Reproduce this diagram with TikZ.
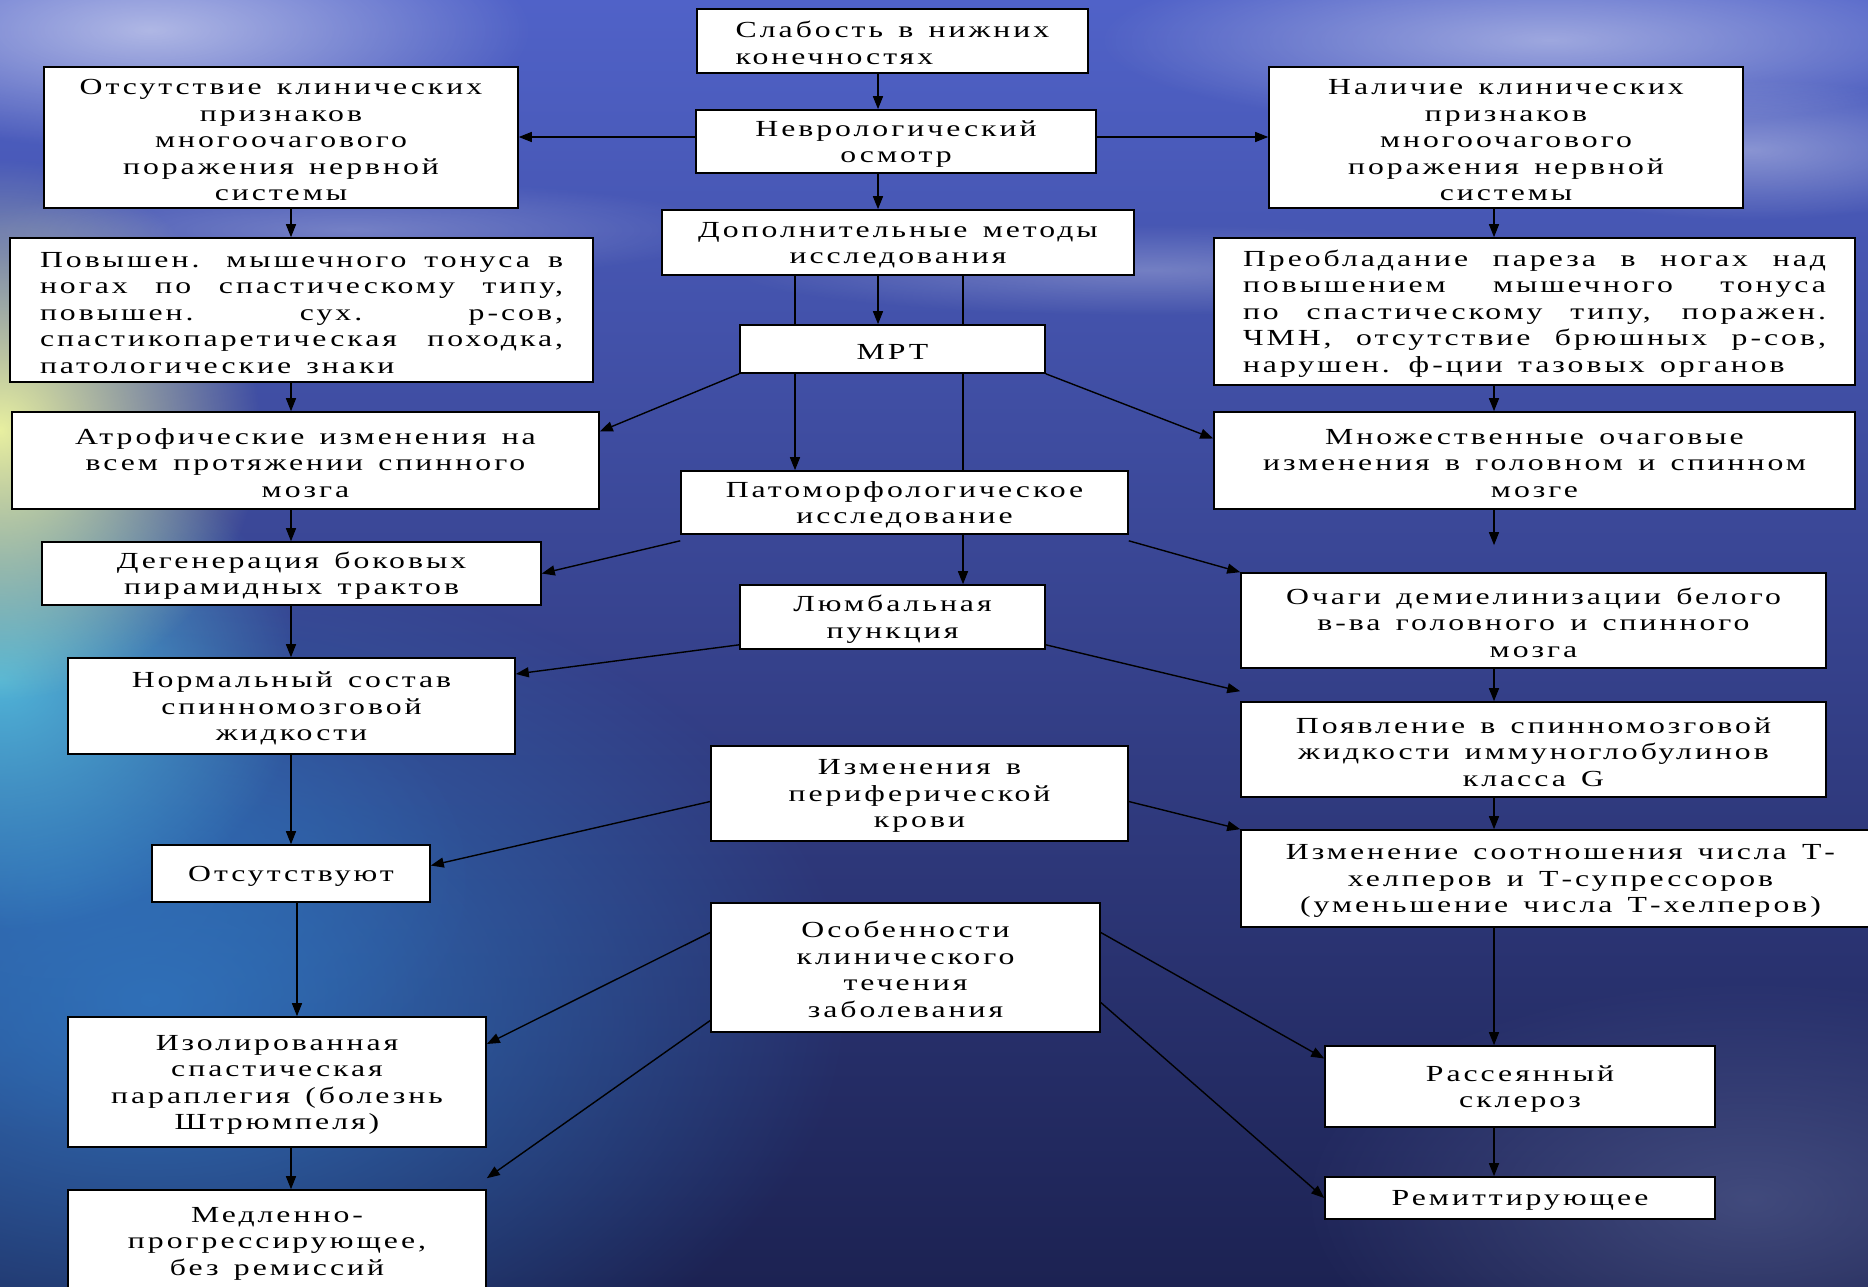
\documentclass[tikz,border=0pt]{standalone}
\usepackage{fontspec}
\usetikzlibrary{arrows.meta,fadings}
\newfontfamily\bxfont[FakeStretch=1.38,LetterSpace=13,WordSpace=1.4]{Liberation Serif}
\pgfdeclarelayer{bgl}\pgfdeclarelayer{conn}
\pgfsetlayers{bgl,conn,main}
\definecolor{skyA}{HTML}{5062C8}
\definecolor{skyB}{HTML}{2E3A9C}
\definecolor{seaC}{HTML}{1C2252}
\definecolor{glowY}{HTML}{E8F0A0}
\definecolor{glowC}{HTML}{50B4D8}
\definecolor{waterT}{HTML}{3070B8}
\definecolor{greyW}{HTML}{6A76A6}
\tikzfading[name=softout,inner color=transparent!0,outer color=transparent!100]
\tikzset{
  box/.style={draw=black,line width=1.6pt,fill=white,inner sep=0pt,align=center,
    font=\bxfont\fontsize{23}{26.5}\selectfont},
  arr/.style={line width=1.4pt,-{Triangle[length=13pt,width=10pt]}},
}
\newcommand{\Bx}[7][]{%
  \pgfmathsetmacro\bw{#5-#3}%
  \pgfmathsetmacro\bh{#6-#4}%
  \pgfmathsetmacro\bcx{(#3+#5)/2}%
  \pgfmathsetmacro\bcy{(#4+#6)/2}%
  \node[box,minimum width=\bw pt,minimum height=\bh pt,#1] (#2) at (\bcx,\bcy) {\rule{0pt}{20.5pt}#7};}
\begin{document}
\begin{tikzpicture}[x=1pt,y=-1pt]
\useasboundingbox (0,0) rectangle (1868,1287);
\begin{pgfonlayer}{bgl}
  \shade[top color=skyA,middle color=skyB,bottom color=seaC] (0,0) rectangle (1868,1287);
  \fill[white,opacity=0.55,path fading=softout] (150,30) ellipse [x radius=380,y radius=120];
  \fill[white,opacity=0.45,path fading=softout] (1550,40) ellipse [x radius=450,y radius=90];
  \fill[white,opacity=0.35,path fading=softout] (1750,150) ellipse [x radius=260,y radius=70];
  \fill[white,opacity=0.25,path fading=softout] (1150,270) ellipse [x radius=420,y radius=45];
  \fill[white,opacity=0.25,path fading=softout] (350,230) ellipse [x radius=380,y radius=50];
  \fill[greyW,opacity=0.45,path fading=softout] (1750,1200) ellipse [x radius=450,y radius=220];
  \fill[waterT,opacity=1,path fading=softout] (150,1000) ellipse [x radius=700,y radius=450];
  \fill[waterT,opacity=0.8,path fading=softout] (60,880) ellipse [x radius=420,y radius=260];
  \fill[glowC,opacity=1,path fading=softout] (0,680) ellipse [x radius=300,y radius=250];
  \fill[glowY,opacity=1,path fading=softout] (0,430) ellipse [x radius=260,y radius=270];
\end{pgfonlayer}

\Bx[align=left]{sl}{697}{9}{1088}{73}{Слабость в нижних\\конечностях}
\Bx{nev}{696}{110}{1096}{173}{Неврологический\\осмотр}
\Bx{otsK}{44}{67}{518}{208}{Отсутствие клинических\\признаков\\многоочагового\\поражения нервной\\системы}
\Bx{nal}{1269}{67}{1743}{208}{Наличие клинических\\признаков\\многоочагового\\поражения нервной\\системы}
\Bx{dop}{662}{210}{1134}{275}{Дополнительные методы\\исследования}
\Bx[text width=523pt,align=justify]{pov}{10}{238}{593}{382}{Повышен. мышечного тонуса в\linebreak ногах по спастическому типу,\linebreak повышен. сух. р-сов,\linebreak спастикопаретическая походка,\linebreak патологические знаки}
\Bx[text width=583pt,align=justify]{preo}{1214}{238}{1855}{385}{Преобладание пареза в ногах над\linebreak повышением мышечного тонуса\linebreak по спастическому типу, поражен.\linebreak ЧМН, отсутствие брюшных р-сов,\linebreak нарушен. ф-ции тазовых органов}
\Bx{mrt}{740}{325}{1045}{373}{МРТ}
\Bx{atr}{12}{412}{599}{509}{Атрофические изменения на\\всем протяжении спинного\\мозга}
\Bx{mnoz}{1214}{412}{1855}{509}{Множественные очаговые\\изменения в головном и спинном\\мозге}
\Bx{pat}{681}{471}{1128}{534}{Патоморфологическое\\исследование}
\Bx{deg}{42}{542}{541}{605}{Дегенерация боковых\\пирамидных трактов}
\Bx{och}{1241}{573}{1826}{668}{Очаги демиелинизации белого\\в-ва головного и спинного\\мозга}
\Bx{lum}{740}{585}{1045}{649}{Люмбальная\\пункция}
\Bx{norm}{68}{658}{515}{754}{Нормальный состав\\спинномозговой\\жидкости}
\Bx{poyav}{1241}{702}{1826}{797}{Появление в спинномозговой\\жидкости иммуноглобулинов\\класса G}
\Bx{krov}{711}{746}{1128}{841}{Изменения в\\периферической\\крови}
\Bx{otst}{152}{845}{430}{902}{Отсутствуют}
\Bx{izmsoot}{1241}{830}{1880}{927}{Изменение соотношения числа Т-\\хелперов и Т-супрессоров\\(уменьшение числа Т-хелперов)}
\Bx{osob}{711}{903}{1100}{1032}{Особенности\\клинического\\течения\\заболевания}
\Bx{izol}{68}{1017}{486}{1147}{Изолированная\\спастическая\\параплегия (болезнь\\Штрюмпеля)}
\Bx{rass}{1325}{1046}{1715}{1127}{Рассеянный\\склероз}
\Bx{rem}{1325}{1177}{1715}{1219}{Ремиттирующее}
\Bx{med}{68}{1190}{486}{1292}{Медленно-\\прогрессирующее,\\без ремиссий}

\coordinate (cA) at (878,0);
\coordinate (cL) at (291,0);
\coordinate (cL2) at (297,0);
\coordinate (cR) at (1494,0);
\coordinate (cP) at (795,0);
\coordinate (cQ) at (963,0);
\coordinate (hN) at (0,137);

\begin{pgfonlayer}{conn}
  % centre column
  \draw[arr] (sl.south -| cA) -- (nev.north -| cA);
  \draw[arr] (nev.south -| cA) -- (dop.north -| cA);
  \draw[arr] (dop.south -| cA) -- (mrt.north -| cA);
  \draw[arr] (dop.south -| cP) -- (pat.north -| cP);
  \draw[arr] (dop.south -| cQ) -- (lum.north -| cQ);
  \draw[arr] (nev.west |- hN) -- (otsK.east |- hN);
  \draw[arr] (nev.east |- hN) -- (nal.west |- hN);
  % left column
  \draw[arr] (otsK.south -| cL) -- (pov.north -| cL);
  \draw[arr] (pov.south -| cL) -- (atr.north -| cL);
  \draw[arr] (atr.south -| cL) -- (deg.north -| cL);
  \draw[arr] (deg.south -| cL) -- (norm.north -| cL);
  \draw[arr] (norm.south -| cL) -- (otst.north -| cL);
  \draw[arr] (otst.south -| cL2) -- (izol.north -| cL2);
  \draw[arr] (izol.south -| cL) -- (med.north -| cL);
  % right column
  \draw[arr] (nal.south -| cR) -- (preo.north -| cR);
  \draw[arr] (preo.south -| cR) -- (mnoz.north -| cR);
  \draw[arr,shorten >=27pt] (mnoz.south -| cR) -- (och.north -| cR);
  \draw[arr] (och.south -| cR) -- (poyav.north -| cR);
  \draw[arr] (poyav.south -| cR) -- (izmsoot.north -| cR);
  \draw[arr] (izmsoot.south -| cR) -- (rass.north -| cR);
  \draw[arr] (rass.south -| cR) -- (rem.north -| cR);
  % diagonals
  \draw[arr] (mrt.south west) -- ([yshift=29pt]atr.east);
  \draw[arr] (mrt.south east) -- ([yshift=22pt]mnoz.west);
  \draw[arr] ([yshift=-6pt]pat.south west) -- (deg.east);
  \draw[arr] ([yshift=-6pt]pat.south east) -- (och.north west);
  \draw[arr] ([yshift=5pt]lum.south west) -- ([yshift=32pt]norm.east);
  \draw[arr] ([yshift=5pt]lum.south east) -- ([yshift=10pt]poyav.north west);
  \draw[arr] ([yshift=-8pt]krov.west) -- ([yshift=8pt]otst.east);
  \draw[arr] ([yshift=-8pt]krov.east) -- (izmsoot.north west);
  \draw[arr] ([yshift=35pt]osob.west) -- ([yshift=38pt]izol.east);
  \draw[arr] ([yshift=-53pt]osob.west) -- ([yshift=11pt]med.north east);
  \draw[arr] ([yshift=35pt]osob.east) -- ([yshift=28pt]rass.west);
  \draw[arr] ([yshift=-35pt]osob.east) -- (rem.west);
\end{pgfonlayer}
\end{tikzpicture}
\end{document}
